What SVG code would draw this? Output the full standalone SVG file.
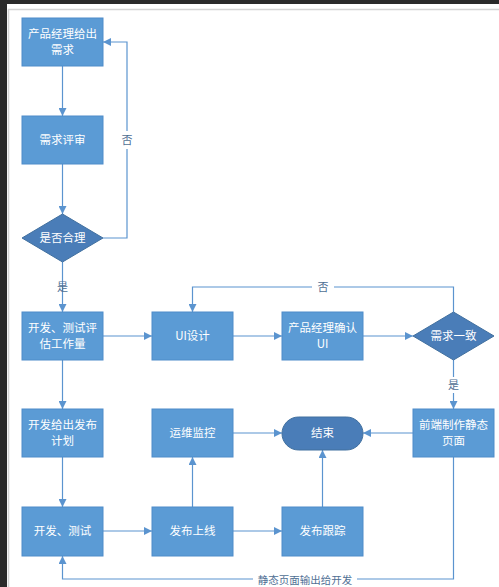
<svg xmlns="http://www.w3.org/2000/svg" width="499" height="587" viewBox="0 0 499 587">
<defs>
<marker id="ah" viewBox="0 0 10 10" refX="10" refY="5" markerWidth="8" markerHeight="8" markerUnits="userSpaceOnUse" orient="auto">
<path d="M0,0 L10,5 L0,10 z" fill="#5b94cf"/>
</marker>
<style>
.box{fill:#5b9bd5;stroke:#4f8cc9;stroke-width:1}
.dk{fill:#4a7db8;stroke:#41709f;stroke-width:1}
.t{font-family:"Noto Sans CJK SC","Noto Sans",sans-serif;font-size:11.5px;fill:#ffffff;text-anchor:middle}
.lb{font-family:"Noto Sans CJK SC","Noto Sans",sans-serif;font-size:11px;fill:#4f6f94;text-anchor:middle}
.c{fill:none;stroke:#5b94cf;stroke-width:1.2}
</style>
</defs>
<rect x="0" y="0" width="499" height="587" fill="#ffffff"/>
<rect x="0" y="0" width="499" height="4" fill="#2a2a2a"/>
<rect x="0" y="0" width="7" height="587" fill="#2a2a2a"/>
<path d="M8.5,587 V9.5 H499" fill="none" stroke="#d4d4d4" stroke-width="1.5"/>

<g id="connectors">
<path class="c" d="M62.5,66 V116" marker-end="url(#ah)"/>
<path class="c" d="M62.5,164 V214" marker-end="url(#ah)"/>
<path class="c" d="M103,238 H127 V42 H103" marker-end="url(#ah)"/>
<path class="c" d="M62.5,262 V312" marker-end="url(#ah)"/>
<path class="c" d="M103,336 H152" marker-end="url(#ah)"/>
<path class="c" d="M233,336 H282" marker-end="url(#ah)"/>
<path class="c" d="M363,336 H413" marker-end="url(#ah)"/>
<path class="c" d="M453.5,312 V287 H192.5 V312" marker-end="url(#ah)"/>
<path class="c" d="M453.5,360 V409" marker-end="url(#ah)"/>
<path class="c" d="M62.5,360 V409" marker-end="url(#ah)"/>
<path class="c" d="M62.5,457 V507" marker-end="url(#ah)"/>
<path class="c" d="M103,531 H152" marker-end="url(#ah)"/>
<path class="c" d="M233,531 H282" marker-end="url(#ah)"/>
<path class="c" d="M192.5,507 V457" marker-end="url(#ah)"/>
<path class="c" d="M322.5,507 V450" marker-end="url(#ah)"/>
<path class="c" d="M233,433 H282" marker-end="url(#ah)"/>
<path class="c" d="M413,433 H363" marker-end="url(#ah)"/>
<path class="c" d="M453.5,457 V579 H62.5 V556" marker-end="url(#ah)"/>
<rect x="115" y="131" width="24" height="18" fill="#ffffff"/>
<text class="lb" x="127" y="144">否</text>
<text class="lb" x="62.5" y="291">是</text>
<rect x="312" y="279" width="22" height="16" fill="#ffffff"/>
<text class="lb" x="323" y="291">否</text>
<rect x="443" y="377" width="21" height="16" fill="#ffffff"/>
<text class="lb" x="453.5" y="389">是</text>
<rect x="253" y="574" width="104" height="13" fill="#ffffff"/>
<text class="lb" x="305" y="584" style="font-size:10.5px">静态页面输出给开发</text>
</g>

<g id="n1"><rect class="box" x="22" y="18" width="81" height="48"/><text class="t" x="62.5" y="38">产品经理给出</text><text class="t" x="62.5" y="54">需求</text></g>
<g id="n2"><rect class="box" x="22" y="116" width="81" height="48"/><text class="t" x="62.5" y="144">需求评审</text></g>
<g id="n3"><path class="dk" d="M62.5,214 L103,238 L62.5,262 L22,238 z"/><text class="t" x="62.5" y="242">是否合理</text></g>
<g id="n4"><rect class="box" x="22" y="312" width="81" height="48"/><text class="t" x="62.5" y="332">开发、测试评</text><text class="t" x="62.5" y="348">估工作量</text></g>
<g id="n5"><rect class="box" x="152" y="312" width="81" height="48"/><text class="t" x="192.5" y="340">UI设计</text></g>
<g id="n6"><rect class="box" x="282" y="312" width="81" height="48"/><text class="t" x="322.5" y="332">产品经理确认</text><text class="t" x="322.5" y="348">UI</text></g>
<g id="n7"><path class="dk" d="M453.5,312 L494,336 L453.5,360 L413,336 z"/><text class="t" x="453.5" y="340">需求一致</text></g>
<g id="n8"><rect class="box" x="413" y="409" width="81" height="48"/><text class="t" x="453.5" y="429">前端制作静态</text><text class="t" x="453.5" y="445">页面</text></g>
<g id="n9"><rect class="dk" x="282" y="417" width="81" height="33" rx="16.5" ry="16.5"/><text class="t" x="322.5" y="437">结束</text></g>
<g id="n10"><rect class="box" x="22" y="409" width="81" height="48"/><text class="t" x="62.5" y="429">开发给出发布</text><text class="t" x="62.5" y="445">计划</text></g>
<g id="n11"><rect class="box" x="152" y="409" width="81" height="48"/><text class="t" x="192.5" y="437">运维监控</text></g>
<g id="n12"><rect class="box" x="22" y="507" width="81" height="49"/><text class="t" x="62.5" y="535">开发、测试</text></g>
<g id="n13"><rect class="box" x="152" y="507" width="81" height="49"/><text class="t" x="192.5" y="535">发布上线</text></g>
<g id="n14"><rect class="box" x="282" y="507" width="81" height="49"/><text class="t" x="322.5" y="535">发布跟踪</text></g>
</svg>
